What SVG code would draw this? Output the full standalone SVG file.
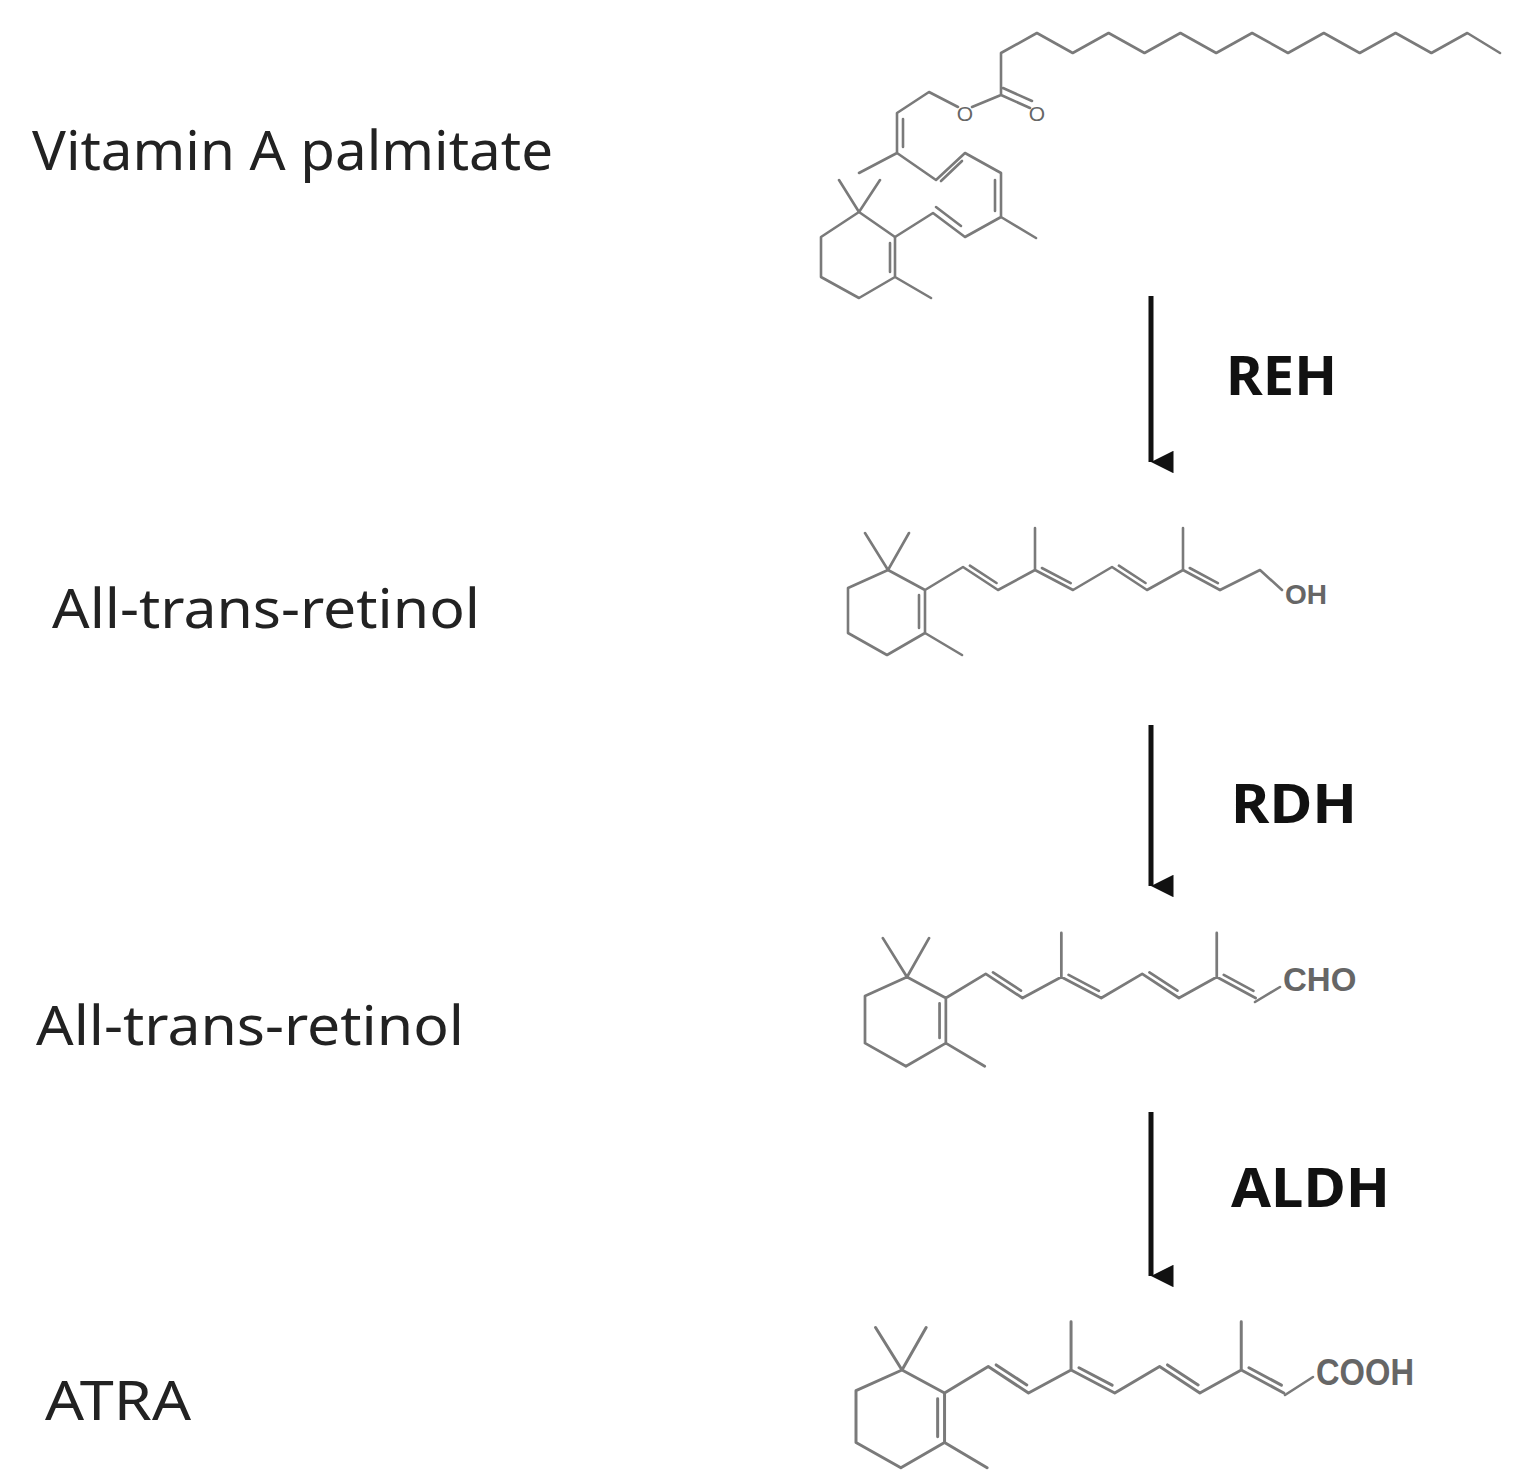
<svg xmlns="http://www.w3.org/2000/svg" width="1531" height="1482" viewBox="0 0 1531 1482">
<style>
.b{fill:none;stroke:#7a7a7a;stroke-width:2.6;stroke-linejoin:round;stroke-linecap:round}
.lbl{font-family:"Noto Sans","Liberation Sans",sans-serif;font-size:54px;fill:#222}
.enz{font-family:"Noto Sans","Liberation Sans",sans-serif;font-size:54px;font-weight:bold;fill:#111}
.at{font-family:"Liberation Sans",Arial,sans-serif;fill:#666}
.arr{stroke:#111;stroke-width:5;fill:none}
</style>
<defs>
<marker id="ah" viewBox="0 0 10 10" refX="5" refY="10" markerWidth="4.5" markerHeight="4.5" markerUnits="strokeWidth" orient="auto-start-reverse">
<path d="M0,0 L10,0 L5,10 Z" fill="#111" transform="rotate(0)"/>
</marker>
<g id="ret">
<path d="M-23,-37 L0,0 L21,-37 M0,0 L-40,18 L-40,63 L-1,85 L37,63 L37,20 L0,0 M37,63 L74,85 M31,58 L31,25 M37,20 L75,-3 L110,20 L147,0 L185,20 L224,-3 L259,20 L295,0 L332,20 M147,0 L147,-42 M295,0 L295,-42 M81.9,-4.4 L108.5,13 M153.9,-2 L182.7,13.2 M230.9,-4.4 L257.5,13 M301.7,-2 L329.9,13.2"/>
</g>
</defs>

<g id="label-palmitate"><text class="lbl" x="32" y="170" textLength="521" lengthAdjust="spacingAndGlyphs">Vitamin A palmitate</text></g>
<g id="label-retinol"><text class="lbl" x="52" y="628" textLength="428" lengthAdjust="spacingAndGlyphs">All-trans-retinol</text></g>
<g id="label-retinal"><text class="lbl" x="36" y="1045" textLength="428" lengthAdjust="spacingAndGlyphs">All-trans-retinol</text></g>
<g id="label-atra"><text class="lbl" x="45" y="1420" textLength="146" lengthAdjust="spacingAndGlyphs">ATRA</text></g>

<g id="mol-palmitate" class="b">
<path d="M839,180 L859,212 L880,180 M859,212 L821,237 L821,277 L859,298 L895,277 L895,237 L859,212 M895,277 L931,298 M890,243 L890,272"/>
<path d="M895,237 L933,213 L965,237 L1001,217 L1001,173 L965,153 L936,180 L897,153 L897,113 L929,92 L958,107 M1001,217 L1036,238 M897,153 L859,173"/>
<path d="M936,207 L961,226 M995,211 L995,180 M962,161 L941,181 M903,147 L903,119"/>
<path d="M972,107 L1001,95 L1030,108 M1003,88 L1032,101 M1001,95 L1001,53 L1036.9,33 L1072.7,53 L1108.6,33 L1144.5,53 L1180.4,33 L1216.2,53 L1252.1,33 L1288,53 L1323.8,33 L1359.7,53 L1395.6,33 L1431.4,53 L1467.3,33 L1500,53"/>
<text class="at" x="965" y="121" font-size="21" text-anchor="middle" stroke="none" fill="#666">O</text>
<text class="at" x="1037" y="121" font-size="21" text-anchor="middle" stroke="none" fill="#666">O</text>
</g>

<g id="mol-retinol" class="b">
<use href="#ret" transform="translate(888,570)"/>
<path d="M1220,590 L1260,570 L1282,590"/>
<text class="at" x="1285" y="604" font-size="28" font-weight="bold" stroke="none">OH</text>
</g>

<g id="mol-retinal" class="b">
<use href="#ret" transform="translate(907,977) scale(1.05)"/>
<path d="M1255,1002 L1280,987"/>
<text class="at" x="1283" y="991" font-size="33" font-weight="bold" stroke="none">CHO</text>
</g>

<g id="mol-atra" class="b">
<use href="#ret" transform="translate(902,1370) scale(1.15)"/>
<path d="M1285,1395 L1313,1377"/>
<text class="at" x="1316" y="1385" font-size="37" font-weight="bold" stroke="none" textLength="98" lengthAdjust="spacingAndGlyphs">COOH</text>
</g>

<g id="connectors">
<line class="arr" x1="1151" y1="296" x2="1151" y2="462" marker-end="url(#ah)"/>
<line class="arr" x1="1151" y1="725" x2="1151" y2="886" marker-end="url(#ah)"/>
<line class="arr" x1="1151" y1="1112" x2="1151" y2="1276" marker-end="url(#ah)"/>
</g>

<g id="enzymes">
<text class="enz" x="1226" y="395" textLength="111" lengthAdjust="spacingAndGlyphs">REH</text>
<text class="enz" x="1231" y="823" textLength="126" lengthAdjust="spacingAndGlyphs">RDH</text>
<text class="enz" x="1231" y="1207" textLength="159" lengthAdjust="spacingAndGlyphs">ALDH</text>
</g>
</svg>
